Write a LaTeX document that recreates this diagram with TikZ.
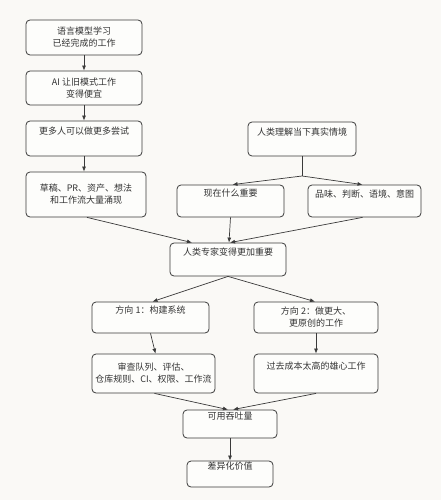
\documentclass[tikz,border=0pt]{standalone}
\usepackage{fontspec}
\usepackage{xcolor}
\usetikzlibrary{arrows.meta,positioning,calc}
\newfontfamily\cjk{Noto Sans CJK SC}
\definecolor{pgpaper}{HTML}{FAF9F6}
\definecolor{pgbox}{HTML}{FDFDFB}
\definecolor{pgline}{HTML}{3A3A3A}
\definecolor{pgtext}{HTML}{333333}
\newcommand{\toprow}[1]{#1\\\strut}

\begin{document}
\begin{tikzpicture}[
 x=1pt,y=-1pt,
 >={Latex[length=5pt,width=4pt]},
 font=\cjk\fontsize{9}{12}\selectfont,
 stagebox/.style={draw=pgline,fill=pgbox,rounded corners=4pt,line width=0.8pt,
   align=center,inner sep=0pt,text=pgtext},
 flow/.style={->,line width=0.7pt,pgline}
]
\fill[pgpaper] (0,0) rectangle (441,500);
\useasboundingbox (0,0) rectangle (441,500);
% left column
\node[stagebox,minimum width=116pt,minimum height=35pt] (learned) at (84,37.5)
 {语言模型学习\\已经完成的工作};
\node[stagebox,minimum width=116pt,minimum height=34pt] (cheap) at (84,88)
 {AI 让旧模式工作\\变得便宜};
\node[stagebox,minimum width=116pt,minimum height=35pt] (tries) at (84,138.5)
 {\toprow{更多人可以做更多尝试}};
\node[stagebox,minimum width=120pt,minimum height=45pt] (flood) at (86,194.5)
 {草稿、PR、资产、想法\\和工作流大量涌现};
% right column
\node[stagebox,minimum width=108pt,minimum height=34pt] (context) at (302,139)
 {\toprow{人类理解当下真实情境}};
\coordinate (split) at (302,176);
\node[stagebox,minimum width=107pt,minimum height=32pt] (matters) at (230.5,201)
 {\toprow{现在什么重要}};
\node[stagebox,minimum width=113pt,minimum height=32pt] (taste) at (364.5,201)
 {\toprow{品味、判断、语境、意图}};
% merge
\node[stagebox,minimum width=116pt,minimum height=33pt] (expert) at (228,259.5)
 {\toprow{人类专家变得更加重要}};
\node[stagebox,minimum width=117pt,minimum height=31pt] (dirone) at (150.5,317.5)
 {\toprow{方向 1：构建系统}};
\node[stagebox,minimum width=124pt,minimum height=31pt] (dirtwo) at (316,317.5)
 {方向 2：做更大、\\更原创的工作};
\node[stagebox,minimum width=123pt,minimum height=39pt] (review) at (153.5,373.5)
 {审查队列、评估、\\仓库规则、CI、权限、工作流};
\node[stagebox,minimum width=124pt,minimum height=39pt] (ambition) at (316,373.5)
 {\toprow{过去成本太高的雄心工作}};
\node[stagebox,minimum width=94pt,minimum height=28pt] (throughput) at (230,424)
 {\toprow{可用吞吐量}};
\node[stagebox,minimum width=86pt,minimum height=26pt] (value) at (230,474)
 {\toprow{差异化价值}};
% connectors
\draw[flow] (learned) -- (cheap);
\draw[flow] (cheap) -- (tries);
\draw[flow] (tries.south) -- (tries.south |- flood.north);
\draw[flow] ([xshift=1pt]flood.south) -- ([xshift=-36pt]expert.north);
\draw[line width=0.7pt,pgline] (context.south) -- (split);
\draw[flow] (split) -- ([xshift=2pt]matters.north);
\draw[flow] (split) -- ([xshift=-2pt]taste.north);
\draw[flow] (matters.south) -- ([xshift=1pt]expert.north);
\draw[flow] ([xshift=-2pt]taste.south) -- ([xshift=2pt]expert.north);
\draw[flow] (expert.south) -- ([xshift=2pt]dirone.north);
\draw[flow] (expert.south) -- ([xshift=-1pt]dirtwo.north);
\draw[flow] (dirone.south) -- ([xshift=2pt]review.north);
\draw[flow] (dirtwo) -- (ambition);
\draw[flow] ([xshift=1pt]review.south) -- ([xshift=-2pt]throughput.north);
\draw[flow] (ambition.south) -- ([xshift=3pt]throughput.north);
\draw[flow] (throughput) -- (value);
\end{tikzpicture}
\end{document}
